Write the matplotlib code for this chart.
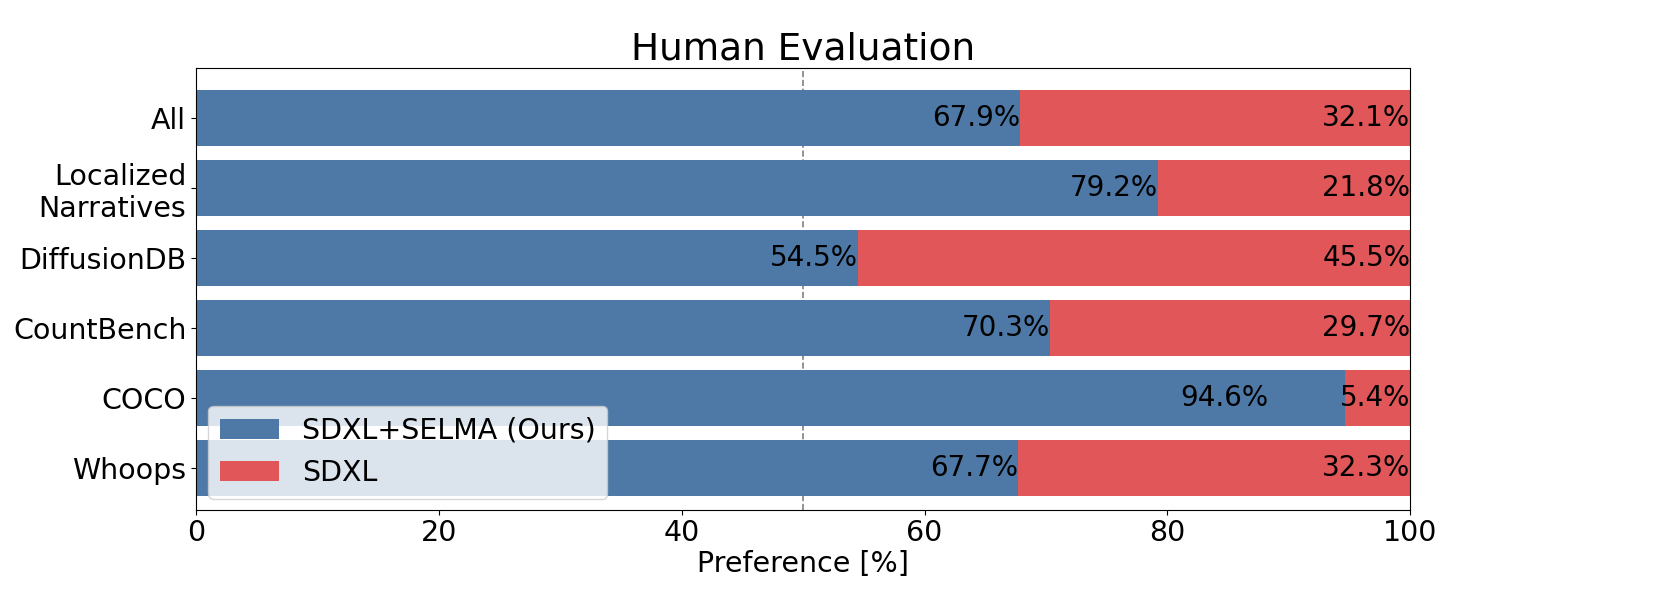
import numpy as np
import matplotlib.pyplot as plt

categories = ["All", "Localized\nNarratives", "DiffusionDB", "CountBench", "COCO", "Whoops"]
selma = [67.9, 79.2, 54.5, 70.3, 94.6, 67.7]
sdxl = [32.1, 21.8, 45.5, 29.7, 5.4, 32.3]

blue = "#4e79a7"
red = "#e15759"

fig, ax = plt.subplots(figsize=(16.61, 6.14), dpi=100)
fig.subplots_adjust(left=0.118, right=0.849, top=0.889, bottom=0.17)

y = np.arange(len(categories))[::-1]
ax.axvline(50, color="gray", ls="--", lw=1.2, zorder=0)
ax.barh(y, selma, height=0.8, color=blue, label="SDXL+SELMA (Ours)", zorder=2)
ax.barh(y, sdxl, left=selma, height=0.8, color=red, label="SDXL", zorder=2)

for yi, a, b in zip(y, selma, sdxl):
    # keep the blue label clear of the red one when the red bar is thin
    xa = a if b > 10 else a - 6.3
    ax.text(xa, yi, f"{a:.1f}%", ha="right", va="center", fontsize=20, zorder=3)
    ax.text(100, yi, f"{b:.1f}%", ha="right", va="center", fontsize=20, zorder=3)

ax.set_yticks(y)
ax.set_yticklabels(categories, fontsize=20.5)
ax.set_xlim(0, 100)
ax.set_ylim(-0.6, 5.714)
ax.set_xticks(np.arange(0, 101, 20))
ax.tick_params(axis="x", labelsize=20.5)
ax.set_xlabel("Preference [%]", fontsize=20.5, labelpad=2)
ax.set_title("Human Evaluation", fontsize=27)
ax.legend(loc="lower left", fontsize=20.5, handlelength=2.1,
          bbox_to_anchor=(0.01, 0.025), borderaxespad=0)

fig.savefig("out.png", dpi=100)
